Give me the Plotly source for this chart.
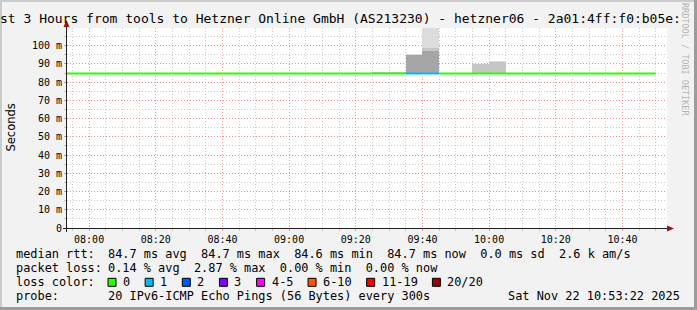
import plotly.graph_objects as go
import pandas as pd

DAY = "2025-11-22 "

# ---------------- data ----------------
step_end = ["07:55", "08:00", "08:05", "08:10", "08:15", "08:20", "08:25", "08:30", "08:35", "08:40",
            "08:45", "08:50", "08:55", "09:00", "09:05", "09:10", "09:15", "09:20", "09:25", "09:30",
            "09:35", "09:40", "09:45", "09:50", "09:55", "10:00", "10:05", "10:10", "10:15", "10:20",
            "10:25", "10:30", "10:35", "10:40", "10:45", "10:50"]
median_rtt = [84.7, 84.7, 84.7, 84.6, 84.7, 84.7, 84.7, 84.7, 84.7, 84.7,
              84.7, 84.7, 84.7, 84.7, 84.7, 84.6, 84.7, 84.7, 84.7, 84.7,
              84.7, 84.7, 84.7, 84.7, 84.7, 84.7, 84.7, 84.7, 84.7, 84.7,
              84.7, 84.6, 84.7, 84.7, 84.7, 84.7]
loss_count = [0, 0, 0, 0, 0, 0, 0, 0, 0, 0,
              0, 0, 0, 0, 0, 0, 0, 0, 0, 0,
              0, 1, 1, 0, 0, 0, 0, 0, 0, 0,
              0, 0, 0, 0, 0, 0]

smoke_end = ["09:30", "09:35", "09:40", "09:45", "10:00", "10:05"]
smoke_base = [84.6, 84.6, 84.6, 84.6, 84.6, 84.6]
smoke_outer = [85.7, 85.7, 95.4, 125.0, 90.0, 91.8]
smoke_mid = [85.7, 85.7, 95.1, 98.6, 90.0, 91.1]
smoke_inner = [84.7, 84.7, 95.0, 97.1, 84.7, 84.7]

loss_labels = ["0", "1", "2", "3", "4-5", "6-10", "11-19", "20/20"]
loss_colors = ["#26ff00", "#00b8ff", "#0059ff", "#7e00ff", "#ff00ff", "#ff5500", "#ff0000", "#a10000"]

ytick_vals = [0, 10, 20, 30, 40, 50, 60, 70, 80, 90, 100]
ytick_text = ["0", "10 m", "20 m", "30 m", "40 m", "50 m", "60 m", "70 m", "80 m", "90 m", "100 m"]

title_text = "st 3 Hours from tools to Hetzner Online GmbH (AS213230) - hetzner06 - 2a01:4ff:f0:b05e:"
row_rtt = "84.7 ms avg  84.7 ms max  84.6 ms min  84.7 ms now  0.0 ms sd  2.6 k am/s"
row_loss = "0.14 % avg  2.87 % max  0.00 % min  0.00 % now"
row_probe = "20 IPv6-ICMP Echo Pings (56 Bytes) every 300s"
stamp = "Sat Nov 22 10:53:22 2025"

# ---------------- layout geometry ----------------
W, H = 697, 310
L, T, PW, PH = 67, 28, 600, 200
MONO = "DejaVu Sans Mono"
CW = 7.15  # legend char width


def px(x):
    return (x - L) / PW


def py(y):
    return (T + PH - y) / PH


fig = go.Figure()

# smoke
ends = pd.to_datetime([DAY + t for t in smoke_end])
for tops, col in [(smoke_outer, "#dcdcdc"), (smoke_mid, "#c6c6c6"), (smoke_inner, "#a5a5a5")]:
    fig.add_trace(go.Bar(
        x=ends, y=[t - b for t, b in zip(tops, smoke_base)], base=smoke_base,
        offset=-300000, width=300000,
        marker=dict(color=col, line=dict(width=0)), hoverinfo="skip", showlegend=False))

# median line, colored by loss
t_end = pd.to_datetime([DAY + t for t in step_end])
t_start = t_end - pd.Timedelta(minutes=5)
loss_index = {0: 0, 1: 1, 2: 2, 3: 3, 4: 4, 5: 4}
i = 0
n = len(step_end)
while i < n:
    j = i
    while j + 1 < n and loss_count[j + 1] == loss_count[i]:
        j += 1
    xs, ys = [], []
    for k in range(i, j + 1):
        xs += [t_start[k], t_end[k]]
        ys += [median_rtt[k], median_rtt[k]]
    if j + 1 < n:
        xs.append(t_end[j])
        ys.append(median_rtt[j + 1])
    fig.add_trace(go.Scatter(x=xs, y=ys, mode="lines",
                             line=dict(color=loss_colors[loss_index.get(loss_count[i], 0)], width=2),
                             hoverinfo="skip", showlegend=False))
    i = j + 1

grid_major = "rgba(240,120,120,0.75)"
grid_minor = "rgba(170,170,170,0.6)"

fig.update_layout(
    width=W, height=H,
    margin=dict(l=L, r=W - L - PW, t=T, b=H - T - PH, pad=0),
    paper_bgcolor="#f2f2f2", plot_bgcolor="#ffffff",
    barmode="overlay", bargap=0,
    showlegend=False,
    font=dict(family=MONO, size=10, color="#000000"),
)
fig.update_xaxes(
    type="date", range=[DAY + "07:53:22", DAY + "10:53:22"],
    tick0=DAY + "08:00", dtick=1200000, tickformat="%H:%M",
    showgrid=True, gridcolor=grid_major, griddash="1px,2px", gridwidth=1,
    ticks="outside", ticklen=2, tickcolor=grid_major,
    tickfont=dict(family=MONO, size=10, color="#000"),
    minor=dict(dtick=300000, tick0=DAY + "07:55", showgrid=True, gridcolor=grid_minor,
               griddash="1px,2px", ticks="outside", ticklen=2, tickcolor=grid_minor),
    showline=False, zeroline=False, fixedrange=True,
)
fig.update_yaxes(
    range=[0, 109.7], tickvals=ytick_vals, ticktext=ytick_text,
    showgrid=True, gridcolor=grid_major, griddash="1px,2px", gridwidth=1,
    ticks="outside", ticklen=2, tickcolor=grid_major,
    tickfont=dict(family=MONO, size=10, color="#000"),
    minor=dict(dtick=5, tick0=0, showgrid=True, gridcolor=grid_minor,
               griddash="1px,2px", ticks="outside", ticklen=2, tickcolor=grid_minor),
    showline=False, zeroline=False, fixedrange=True,
)

shapes = []
# axes lines
shapes.append(dict(type="line", xref="paper", yref="paper", x0=px(63), x1=px(669), y0=py(228.5), y1=py(228.5),
                   line=dict(color="#202020", width=1)))
shapes.append(dict(type="line", xref="paper", yref="paper", x0=px(66.5), x1=px(66.5), y0=py(232), y1=py(25),
                   line=dict(color="#202020", width=1)))
# arrows
shapes.append(dict(type="path", xref="paper", yref="paper",
                   path=f"M {px(667)} {py(225.5)} L {px(674)} {py(228.5)} L {px(667)} {py(231.5)} Z",
                   fillcolor="#a01010", line=dict(width=0)))
shapes.append(dict(type="path", xref="paper", yref="paper",
                   path=f"M {px(63.5)} {py(27)} L {px(66.5)} {py(20)} L {px(69.5)} {py(27)} Z",
                   fillcolor="#a01010", line=dict(width=0)))
# 3D frame
shapes.append(dict(type="rect", xref="paper", yref="paper", x0=px(0), x1=px(W), y0=py(0), y1=py(2),
                   fillcolor="#cbcbcb", line=dict(width=0)))
shapes.append(dict(type="rect", xref="paper", yref="paper", x0=px(0), x1=px(2), y0=py(0), y1=py(H),
                   fillcolor="#cbcbcb", line=dict(width=0)))
shapes.append(dict(type="rect", xref="paper", yref="paper", x0=px(0), x1=px(W), y0=py(H - 3), y1=py(H),
                   fillcolor="#9c9c9c", line=dict(width=0)))
shapes.append(dict(type="rect", xref="paper", yref="paper", x0=px(W - 3), x1=px(W), y0=py(0), y1=py(H),
                   fillcolor="#9c9c9c", line=dict(width=0)))

annotations = []


def txt(x, y, s, size=11.9, anchor="left", color="#000", family=MONO, angle=0):
    annotations.append(dict(x=px(x), y=py(y), xref="paper", yref="paper", text=s, showarrow=False,
                            xanchor=anchor, yanchor="middle", textangle=angle, borderpad=0,
                            font=dict(family=family, size=size, color=color)))


txt(-1, 18.5, title_text, size=13)
txt(10.5, 128, "Seconds", size=11.5, anchor="center", family="DejaVu Sans", angle=-90)
txt(685, 59, "RRDTOOL / TOBI OETIKER", size=8.5, anchor="center", color="#b4b4b4", angle=90)

rows_y = [254.3, 268.3, 282.3, 296.2]
txt(15, rows_y[0], "median rtt:")
txt(106.5, rows_y[0], row_rtt.replace(" ", "&nbsp;"))
txt(15, rows_y[1], "packet loss:")
txt(106.5, rows_y[1], row_loss.replace(" ", "&nbsp;"))
txt(15, rows_y[2], "loss color:")
txt(15, rows_y[3], "probe:")
txt(106.5, rows_y[3], row_probe)
txt(681, rows_y[3], stamp, anchor="right")

bx = 108
for lab, col in zip(loss_labels, loss_colors):
    shapes.append(dict(type="rect", xref="paper", yref="paper", x0=px(bx), x1=px(bx + 8),
                       y0=py(rows_y[2] + 4), y1=py(rows_y[2] - 4),
                       fillcolor=col, line=dict(color="#000", width=1)))
    txt(bx + 14, rows_y[2], lab)
    bx = bx + 15 + len(lab) * CW + 15

fig.update_layout(shapes=shapes, annotations=annotations)
fig.write_html("out.html")
